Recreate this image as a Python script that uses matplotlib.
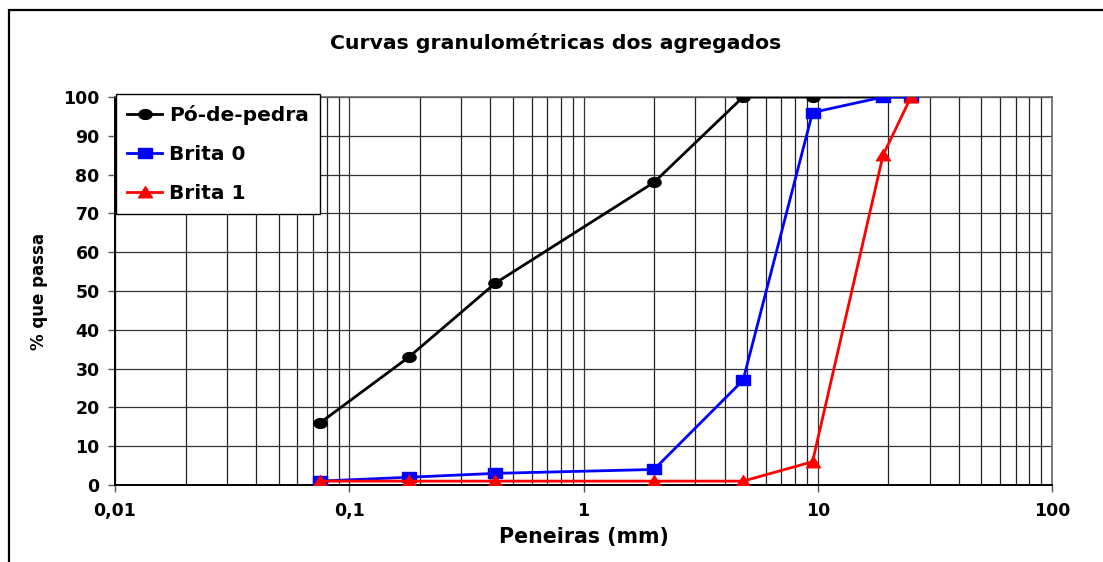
import numpy as np
import matplotlib
matplotlib.use("Agg")
import matplotlib.pyplot as plt
from matplotlib.patches import Rectangle
from matplotlib.path import Path
from matplotlib.ticker import FixedLocator, LogLocator, NullFormatter

plt.rcParams['font.family'] = ['DejaVu Sans']

# Sieve openings (mm) and percentage passing for each aggregate
peneiras = [0.075, 0.18, 0.42, 2.0, 4.8, 9.5, 19, 25]
po_de_pedra = [16, 33, 52, 78, 100, 100, 100, 100]
brita_0 = [1, 2, 3, 4, 27, 96, 100, 100]
brita_1 = [1, 1, 1, 1, 1, 6, 85, 100]

x_ticks = [0.01, 0.1, 1, 10, 100]
x_labels = ['0,01', '0,1', '1', '10', '100']
y_ticks = list(range(0, 101, 10))

# Slightly wide marker shapes
t = np.linspace(0, 2 * np.pi, 41)
wide_circle = Path(np.column_stack([1.35 * np.cos(t), np.sin(t)]), closed=True)
wide_square = Path([(-1.3, -1), (1.3, -1), (1.3, 1), (-1.3, 1), (-1.3, -1)], closed=True)
wide_triangle = Path([(-1.25, -0.95), (1.25, -0.95), (0, 1.05), (-1.25, -0.95)], closed=True)

W, H = 1103, 562
fig = plt.figure(figsize=(W / 100, H / 100), dpi=100)

# Outer chart frame
fig.patches.append(Rectangle((9 / W, -0.1), 1.2, 1 - 10 / H + 0.1,
                             transform=fig.transFigure, fill=False,
                             edgecolor='black', linewidth=1.6))

ax = fig.add_axes([115 / W, (H - 485) / H, (1052 - 115) / W, (485 - 97) / H])
ax.set_xscale('log')
ax.set_xlim(0.01, 100)
ax.set_ylim(0, 100)

ax.plot(peneiras, po_de_pedra, color='black', marker=wide_circle, markersize=9.5,
        linewidth=2, label='Pó-de-pedra', zorder=3)
ax.plot(peneiras, brita_0, color='#0000ff', marker=wide_square, markersize=9.5,
        linewidth=2, label='Brita 0', zorder=4)
ax.plot(peneiras, brita_1, color='#ff0000', marker=wide_triangle, markersize=10,
        linewidth=2, label='Brita 1', zorder=5)

ax.xaxis.set_major_locator(FixedLocator(x_ticks))
ax.set_xticklabels(x_labels)
ax.xaxis.set_minor_locator(LogLocator(base=10, subs=range(2, 10), numticks=20))
ax.xaxis.set_minor_formatter(NullFormatter())
ax.set_yticks(y_ticks)

ax.grid(True, which='major', axis='both', color='#333333', linewidth=0.9)
ax.grid(True, which='minor', axis='x', color='#222222', linewidth=0.9)
ax.set_axisbelow(True)

ax.tick_params(axis='both', which='major', direction='out', length=5,
               width=1, colors='#555555', labelcolor='black', labelsize=12.5)
ax.tick_params(axis='x', which='minor', length=0)
ax.tick_params(axis='x', pad=7)
ax.tick_params(axis='y', pad=6)
for lab in ax.get_xticklabels() + ax.get_yticklabels():
    lab.set_fontweight('bold')

for side in ('left', 'bottom'):
    ax.spines[side].set_color('black')
    ax.spines[side].set_linewidth(1.4)
for side in ('top', 'right'):
    ax.spines[side].set_color('#666666')
    ax.spines[side].set_linewidth(1.2)

ax.set_xlabel('Peneiras (mm)', fontsize=14.8, fontweight='bold', labelpad=5)
ax.set_ylabel('% que passa', fontsize=12, fontweight='bold', labelpad=11)
fig.text(556 / W, 1 - 43 / H, 'Curvas granulométricas dos agregados',
         ha='center', va='center', fontsize=14.7, fontweight='bold')

leg = ax.legend(loc='upper left', bbox_to_anchor=(116 / W, 1 - 94 / H),
                bbox_transform=fig.transFigure, frameon=True, fancybox=False,
                edgecolor='black', framealpha=1, borderaxespad=0,
                prop={'weight': 'bold', 'size': 14.5}, handlelength=1.75,
                handletextpad=0.35, labelspacing=0.98, borderpad=0.55)
leg.get_frame().set_linewidth(1.0)
leg.set_zorder(10)

fig.savefig('out.png', dpi=100)
